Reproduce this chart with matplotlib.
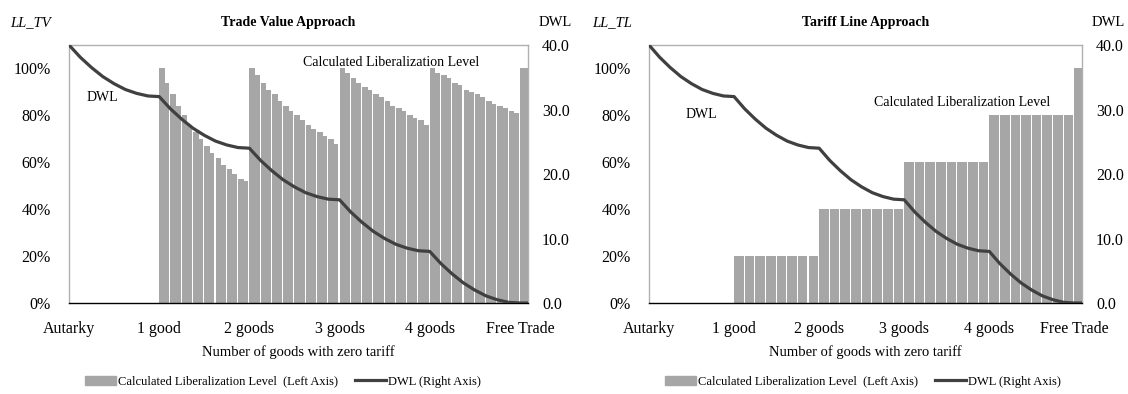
import numpy as np
import matplotlib
matplotlib.use("Agg")
import matplotlib.pyplot as plt
from matplotlib.patches import Patch
from matplotlib.lines import Line2D

plt.rcParams['font.family'] = ['Liberation Serif', 'DejaVu Serif']

# category labels on the x axis (one per good)
goods_labels = ["Autarky", "1 good", "2 goods", "3 goods", "4 goods", "Free Trade"]

# liberalization level, 16 bars per good interval (trade value approach)
ll_tv_1 = [1.00, .94, .89, .84, .80, .76, .73, .70, .67, .64, .62, .59, .57, .55, .53, .52]
ll_tv_2 = [1.00, .97, .94, .91, .89, .86, .84, .82, .80, .78, .76, .74, .73, .71, .70, .68]
ll_tv_3 = [1.00, .98, .96, .94, .92, .91, .89, .88, .86, .84, .83, .82, .80, .79, .78, .76]
ll_tv_4 = [1.00, .98, .97, .96, .94, .93, .91, .90, .89, .88, .86, .85, .84, .83, .82, .81]

# liberalization level (tariff line approach)
ll_tl_1 = [0.20] * 16
ll_tl_2 = [0.40] * 16
ll_tl_3 = [0.60] * 16
ll_tl_4 = [0.80] * 16

ll_free_trade = 1.00

# deadweight loss, 8 points per good interval
dwl = [40.0, 38.1, 36.5, 35.1, 34.0, 33.1, 32.5, 32.1,
       32.0, 30.1, 28.5, 27.1, 26.0, 25.1, 24.5, 24.1,
       24.0, 22.1, 20.5, 19.1, 18.0, 17.1, 16.5, 16.1,
       16.0, 14.1, 12.5, 11.1, 10.0, 9.1, 8.5, 8.1,
       8.0, 6.1, 4.5, 3.1, 2.0, 1.1, 0.5, 0.1,
       0.0]

BAR = '#a6a6a6'
LINE = '#404040'
X_MAX = 5.09


def draw_panel(ax, levels, title, ylab, cll_pos, dwl_pos, title_x, legend_x):
    vals = np.concatenate(levels)
    n = len(vals)
    per = len(levels[0])
    w = 1.0 / per
    x = 1 + np.arange(n) * w
    widths = np.where(np.arange(n) % 2 == 1, w - 0.012, w)
    ax.bar(x, vals, width=widths, align='edge', color=BAR, linewidth=0)
    ax.bar(5.0, ll_free_trade, width=X_MAX - 5.0 - 0.005, align='edge', color=BAR, linewidth=0)
    ax.set_xlim(0, X_MAX)
    ax.set_ylim(0, 1.1)
    ax.set_yticks([0, .2, .4, .6, .8, 1.0])
    ax.set_yticklabels(["0%", "20%", "40%", "60%", "80%", "100%"])
    ax.set_xticks(range(6))
    ax.set_xticklabels(goods_labels)
    ax.tick_params(axis='both', length=0, labelsize=11.5)
    ax.tick_params(axis='y', pad=13)
    ax.tick_params(axis='x', pad=13)
    ax.set_xlabel("Number of goods with zero tariff", fontsize=10.5, labelpad=6)
    for s in ['left', 'top', 'right']:
        ax.spines[s].set_color('#b0b0b0')
        ax.spines[s].set_linewidth(1)
    ax.spines['bottom'].set_color('black')
    ax.spines['bottom'].set_linewidth(1)

    ax2 = ax.twinx()
    dx = np.append(np.arange(len(dwl)) / 8, X_MAX)
    dy = np.append(dwl, dwl[-1])
    ax2.plot(dx, dy, color=LINE, lw=2.3, solid_capstyle='butt')
    ax2.set_ylim(0, 40)
    ax2.set_yticks([0, 10, 20, 30, 40])
    ax2.set_yticklabels(["0.0", "10.0", "20.0", "30.0", "40.0"])
    ax2.tick_params(axis='y', length=0, labelsize=11.5, pad=10)
    for s in ax2.spines.values():
        s.set_visible(False)

    ax.text(title_x, 1.087, title, transform=ax.transAxes, ha='center', va='center',
            fontsize=10, fontweight='bold')
    ax.text(-0.085, 1.087, ylab, transform=ax.transAxes, ha='center', va='center',
            fontsize=10.5, style='italic')
    ax.text(1.06, 1.087, "DWL", transform=ax.transAxes, ha='center', va='center',
            fontsize=10.5)
    ax.text(cll_pos[0], cll_pos[1], "Calculated Liberalization Level", transform=ax.transAxes,
            ha='center', va='center', fontsize=10)
    ax.text(dwl_pos[0], dwl_pos[1], "DWL", transform=ax.transAxes,
            ha='center', va='center', fontsize=10)

    handles = [Patch(color=BAR), Line2D([], [], color=LINE, lw=2.3)]
    ax.legend(handles, ["Calculated Liberalization Level  (Left Axis)", "DWL (Right Axis)"],
              loc='center', bbox_to_anchor=(legend_x, -0.305), ncol=2, frameon=False,
              fontsize=9, handlelength=2.5, handleheight=0.8, handletextpad=0.15,
              columnspacing=1.4)


fig = plt.figure(figsize=(11.28, 3.94), dpi=100)
ax_l = fig.add_axes([69 / 1128, 91 / 394, 459 / 1128, 258 / 394])
ax_r = fig.add_axes([649 / 1128, 91 / 394, 433 / 1128, 258 / 394])

draw_panel(ax_l, [ll_tv_1, ll_tv_2, ll_tv_3, ll_tv_4], "Trade Value Approach", "LL_TV",
           (0.702, 0.934), (0.072, 0.798), 0.477, 0.466)
draw_panel(ax_r, [ll_tl_1, ll_tl_2, ll_tl_3, ll_tl_4], "Tariff Line Approach", "LL_TL",
           (0.723, 0.779), (0.122, 0.729), 0.5, 0.494)

fig.savefig("out.png", dpi=100)
